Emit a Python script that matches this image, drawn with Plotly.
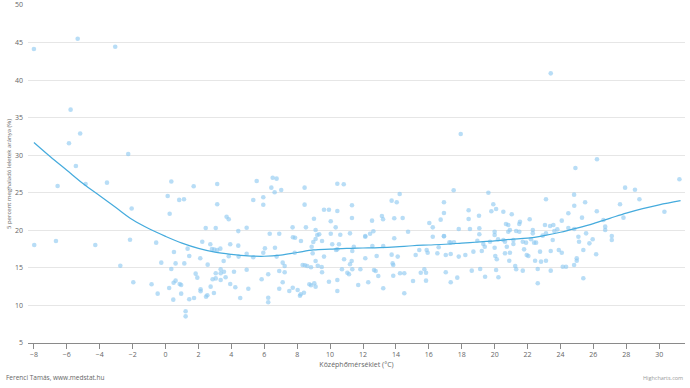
import plotly.graph_objects as go

# Scatter data: (mean temperature °C, share of findings above 5 percent %)
temp = [
-8.0,-5.34,-3.06,-5.77,
-5.87,-5.19,-5.45,-6.56,-4.86,-3.56,-2.27,-2.06,0.35,0.13,0.25,0.83,1.12,1.71,3.14,3.14,2.44,3.05,3.71,3.84,4.42,4.93,5.33,5.54,
-7.98,-6.66,-4.27,-2.16,-2.75,-1.96,-0.57,-0.85,-0.48,-0.26,0.51,0.35,0.61,0.22,0.49,0.61,0.86,0.95,0.95,0.47,1.22,1.22,1.14,1.34,1.44,1.44,1.73,1.83,1.93,2.11,2.23,2.13,2.13,2.46,2.54,2.56,2.72,2.82,2.96,3.14,3.33,2.74,2.86,3.05,3.05,2.94,3.35,3.35,3.35,3.53,3.55,3.65,3.84,3.93,3.93,4.16,4.24,4.42,4.44,4.54,4.93,4.93,5.03,
5.94,5.94,6.43,6.51,6.75,6.63,7.03,6.33,6.91,7.72,7.74,7.87,8.45,8.45,8.53,9.02,9.12,9.34,9.12,9.63,9.93,10.04,10.04,10.34,10.44,10.44,10.83,10.62,11.33,11.33,12.14,12.43,12.63,12.55,13.15,13.22,13.74,14.05,14.23,13.9,14.41,13.9,14.74,16.03,16.24,16.72,16.92,16.92,17.51,16.92,17.82,18.42,18.42,18.5,
5.33,5.94,6.04,6.24,6.24,6.24,5.84,6.65,6.75,7.12,7.24,6.91,7.24,7.12,6.91,7.52,7.73,7.85,8.03,8.17,8.21,8.41,8.33,8.47,8.61,8.84,8.84,8.74,9.04,9.12,8.23,8.88,8.98,8.94,9.12,9.25,9.49,9.51,9.51,9.63,9.22,10.13,9.93,10.36,10.44,10.54,10.44,10.44,10.72,10.85,11.05,11.15,11.21,11.35,11.31,11.21,11.44,11.35,11.71,11.84,12.14,12.14,12.32,12.57,12.67,12.77,12.83,12.93,13.23,13.23,13.74,13.8,13.84,14.11,13.84,14.25,14.51,14.51,15.04,15.2,15.42,15.51,15.73,15.83,15.83,15.87,15.93,16.24,16.52,16.6,16.92,17.03,17.03,17.25,17.33,17.53,17.33,17.33,17.73,17.82,18.22,
23.41,17.94,19.62,24.91,26.22,24.83,27.93,28.53,31.23,23.12,28.8,
19.92,19.8,20.09,19.05,20.53,21.04,21.54,21.5,22.13,24.48,24.84,25.5,26.21,25.31,24.08,27.62,26.61,26.72,26.72,27.12,27.12,30.32,27.83,
19.07,19.07,18.95,18.71,19.22,19.31,19.4,19.72,20.0,20.0,20.0,20.04,20.13,20.09,20.23,19.42,19.12,18.61,20.21,20.53,20.69,20.83,20.83,20.93,20.63,20.74,20.63,20.93,20.89,21.14,21.14,21.31,21.25,21.31,21.71,21.5,21.71,21.79,21.91,21.95,22.05,22.21,22.32,22.32,22.4,22.52,22.46,22.62,22.62,22.76,22.82,22.92,23.06,23.12,23.12,23.37,23.41,23.41,23.53,23.57,23.63,23.81,23.9,24.08,24.14,24.34,24.48,24.84,24.83,24.99,24.99,25.09,25.13,25.39,25.39,25.56,25.76,25.96,26.17,
]
share = [
44.15,45.5,44.45,36.07,
31.6,32.9,28.57,25.9,26.17,26.35,30.17,22.9,26.5,24.57,22.2,24.05,24.13,25.87,26.17,23.47,20.31,20.31,21.8,21.47,19.9,20.35,24.04,26.57,
18.05,18.58,18.05,18.75,15.29,13.08,18.36,12.82,11.57,15.7,17.12,14.85,15.6,12.32,13.03,13.3,12.86,12.72,11.57,10.77,9.22,8.55,15.6,17.56,16.58,10.82,11.0,14.23,13.7,16.28,18.49,12.15,11.88,11.17,11.35,15.43,18.14,17.52,17.43,17.38,17.56,12.5,13.48,13.6,14.28,11.66,14.81,14.28,13.39,15.92,14.49,13.75,16.55,18.14,12.86,14.49,12.42,17.96,16.5,11.0,16.89,14.76,12.23,
24.4,23.4,25.68,27.0,26.88,25.07,25.37,19.55,19.55,20.4,19.07,19.02,25.68,23.42,20.4,21.55,20.05,19.47,18.85,22.75,22.75,21.2,19.55,20.4,22.58,26.21,26.13,19.42,23.33,21.64,19.15,19.55,19.87,21.29,21.91,21.47,23.95,23.73,24.84,21.6,21.64,18.94,19.82,20.98,20.4,21.42,22.31,23.73,25.33,19.2,20.18,22.67,21.51,20.18,
16.41,17.02,17.6,14.15,11.03,10.42,13.48,17.69,16.5,15.7,15.25,14.59,14.41,13.08,12.23,11.92,12.36,17.02,12.06,11.3,11.49,11.7,15.39,15.35,15.25,15.08,12.68,12.82,12.95,12.5,18.58,17.82,18.45,16.94,15.92,15.29,15.12,14.41,18.58,16.5,19.38,18.14,13.16,17.38,17.47,18.14,13.39,11.92,14.81,16.15,14.36,14.15,15.48,14.81,15.92,19.6,17.82,17.25,12.72,14.81,16.28,19.25,13.08,17.92,14.72,14.59,16.58,13.92,12.28,17.92,16.76,15.6,15.39,16.5,13.96,14.28,14.28,11.62,13.26,16.72,17.38,14.36,14.81,14.36,13.3,17.38,17.02,19.15,16.94,17.74,19.25,16.72,14.41,18.41,18.36,18.41,16.85,13.08,13.7,16.5,16.72,
40.9,32.83,25.0,28.3,29.46,24.75,25.68,25.41,26.8,24.13,24.13,
23.47,22.54,22.84,21.95,22.48,22.14,21.15,20.84,21.47,22.27,23.28,23.73,22.54,21.69,21.29,23.47,21.38,20.49,20.05,19.25,18.72,22.48,21.69,
20.27,19.47,18.62,17.16,17.25,18.18,17.82,18.49,19.82,19.38,17.69,16.58,16.15,14.72,13.75,13.83,14.85,14.63,18.81,18.72,20.84,20.71,19.82,20.05,18.49,17.82,16.94,17.02,15.96,18.72,18.18,19.91,15.25,14.81,14.63,19.82,18.49,17.47,18.36,16.72,16.58,18.81,20.05,19.6,18.36,18.36,15.96,14.85,12.95,17.16,15.83,19.29,20.71,19.6,15.96,20.58,17.25,14.63,18.72,20.71,19.91,20.13,17.38,17.02,15.16,15.16,20.31,20.18,15.39,16.28,15.96,19.15,18.49,13.62,17.38,19.6,18.27,18.81,16.81,
]

# Smoothed (loess-like) trend line
trend_x = [-8,-7,-6,-5,-4,-3,-2,-1,0,1,2,3,4,5,6,7,8,9,10,11,12,13,14,15,16,17,18,19,20,21,22,23,24,25,26,27,28,29,30,31.3]
trend_y = [31.7,29.8,28.0,26.2,24.6,23.0,21.4,20.2,19.2,18.3,17.6,17.1,16.8,16.6,16.55,16.7,17.05,17.4,17.5,17.6,17.65,17.7,17.8,17.95,18.05,18.15,18.3,18.45,18.6,18.8,18.95,19.3,19.75,20.3,20.9,21.6,22.3,22.9,23.4,23.95]

x_ticks = list(range(-8, 31, 2))
y_ticks = list(range(5, 51, 5))

fig = go.Figure()
fig.add_trace(go.Scatter(
    x=temp, y=share, mode="markers",
    marker=dict(size=4.6, color="rgba(140,200,240,0.62)", line=dict(width=0)),
    hoverinfo="x+y", showlegend=False))
fig.add_trace(go.Scatter(
    x=trend_x, y=trend_y, mode="lines", line=dict(color="#45abdd", width=1.2, shape="spline"),
    showlegend=False))

fig.update_layout(
    width=690, height=388,
    margin=dict(l=28, r=5, t=5, b=45),
    paper_bgcolor="white", plot_bgcolor="white",
    font=dict(family="Open Sans, Roboto, sans-serif", color="#666666", size=7),
    xaxis=dict(range=[-8.36, 31.57], tickvals=x_ticks, showgrid=False, zeroline=False,
               showline=True, linecolor="#8a8a8a", linewidth=1,
               ticks="outside", ticklen=5, tickcolor="#8a8a8a",
               tickfont=dict(size=7, color="#666666"),
               title=dict(text="Középhőmérséklet (°C)", font=dict(size=7, color="#666666"), standoff=3),
               automargin=False),
    yaxis=dict(range=[5, 50], tickvals=y_ticks, showgrid=True, gridcolor="#e6e6e6", gridwidth=1,
               zeroline=False, showline=False, ticks="", ticklabelstandoff=4,
               tickfont=dict(size=7, color="#666666"),
               title=dict(text="5 percent meghaladó leletek aránya (%)", font=dict(size=6, color="#666666"), standoff=2),
               automargin=False),
    annotations=[
        dict(text="Ferenci Tamás, www.medstat.hu", xref="paper", yref="paper", x=-24/657, y=-34/338,
             xanchor="left", yanchor="middle", showarrow=False, font=dict(size=6.5, color="#666666")),
        dict(text="Highcharts.com", xref="paper", yref="paper", x=1.0, y=-35/338,
             xanchor="right", yanchor="middle", showarrow=False, font=dict(size=5.5, color="#999999")),
    ],
)

fig.write_html("out.html")
